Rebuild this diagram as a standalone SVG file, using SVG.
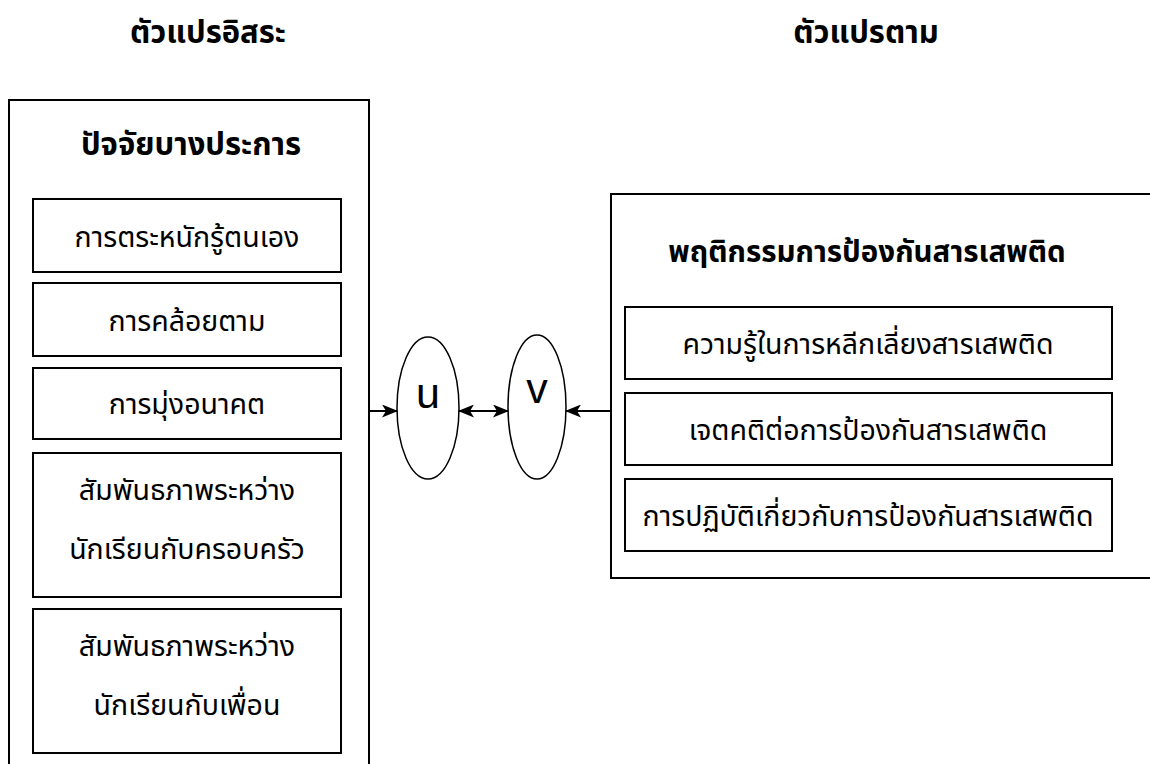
<svg xmlns="http://www.w3.org/2000/svg" width="1150" height="764" viewBox="0 0 1150 764">
<defs>
<marker id="ah" viewBox="0 0 16 13" refX="15" refY="6.5" markerWidth="16" markerHeight="13" markerUnits="userSpaceOnUse" orient="auto-start-reverse">
<path d="M0,0 L16,6.5 L0,13 L4,6.5 Z" fill="#000"/>
</marker>
<style>
.box{fill:#fff;stroke:#000;stroke-width:2}
.ell{fill:#fff;stroke:#000;stroke-width:1.5}
.t{font-family:"Noto Sans Thai","Noto Sans","DejaVu Sans",sans-serif;font-size:28.5px;text-anchor:middle;fill:#000}
.b{font-weight:bold;font-size:31px}
.rb{font-weight:bold;font-size:29.5px}
.h{font-weight:bold;font-size:31px}
.l{font-family:"Liberation Sans",Arial,sans-serif;font-size:43px;text-anchor:middle;fill:#000}
.c{fill:none;stroke:#000;stroke-width:2}
</style>
</defs>
<g id="headers">
<text class="t h" x="208" y="43">ตัวแปรอิสระ</text>
<text class="t h" x="866" y="43">ตัวแปรตาม</text>
</g>
<g id="left-group">
<rect class="box" x="9" y="100" width="360" height="680"/>
<text class="t b" x="191" y="155">ปัจจัยบางประการ</text>
</g>
<g id="l1"><rect class="box" x="33" y="199" width="308" height="73"/><text class="t" x="187" y="247">การตระหนักรู้ตนเอง</text></g>
<g id="l2"><rect class="box" x="33" y="283" width="308" height="73"/><text class="t" x="187" y="331">การคล้อยตาม</text></g>
<g id="l3"><rect class="box" x="33" y="368" width="308" height="71"/><text class="t" x="187" y="414">การมุ่งอนาคต</text></g>
<g id="l4"><rect class="box" x="33" y="453" width="308" height="144"/><text class="t" x="187" y="500">สัมพันธภาพระหว่าง</text><text class="t" x="187" y="559">นักเรียนกับครอบครัว</text></g>
<g id="l5"><rect class="box" x="33" y="609" width="308" height="144"/><text class="t" x="187" y="656">สัมพันธภาพระหว่าง</text><text class="t" x="187" y="715">นักเรียนกับเพื่อน</text></g>
<g id="u"><ellipse class="ell" cx="428" cy="408" rx="31" ry="71"/><text class="l" x="428" y="408">u</text></g>
<g id="v"><ellipse class="ell" cx="537" cy="407" rx="29" ry="72"/><text class="l" x="537" y="403">v</text></g>
<g id="right-group">
<rect class="box" x="611" y="194" width="560" height="384"/>
<text class="t rb" x="867" y="262">พฤติกรรมการป้องกันสารเสพติด</text>
</g>
<g id="r1"><rect class="box" x="625" y="307" width="487" height="72"/><text class="t" x="868" y="354">ความรู้ในการหลีกเลี่ยงสารเสพติด</text></g>
<g id="r2"><rect class="box" x="625" y="393" width="487" height="72"/><text class="t" x="868" y="440">เจตคติต่อการป้องกันสารเสพติด</text></g>
<g id="r3"><rect class="box" x="625" y="479" width="487" height="72"/><text class="t" x="868" y="526">การปฏิบัติเกี่ยวกับการป้องกันสารเสพติด</text></g>
<g id="connectors">
<line class="c" x1="369" y1="411" x2="397" y2="411" marker-end="url(#ah)"/>
<line class="c" x1="459" y1="411" x2="508" y2="411" marker-start="url(#ah)" marker-end="url(#ah)"/>
<line class="c" x1="611" y1="411" x2="566" y2="411" marker-end="url(#ah)"/>
</g>
</svg>
